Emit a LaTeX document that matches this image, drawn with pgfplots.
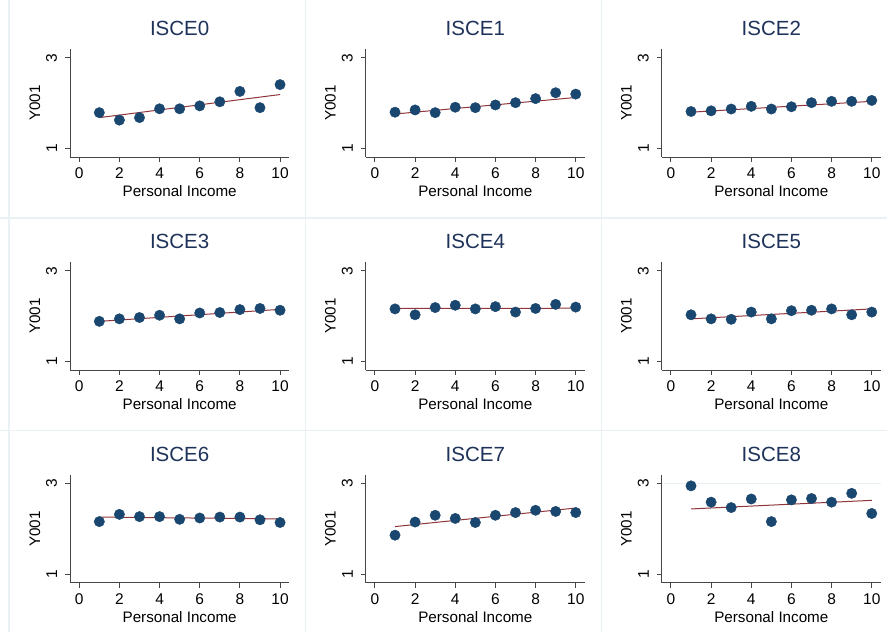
\documentclass[border=0pt]{standalone}
\usepackage{pgfplots}
\pgfplotsset{compat=1.18}
\usepackage{fontspec}
\setmainfont{Liberation Sans}
\definecolor{stnavy}{RGB}{26,71,111}
\definecolor{stmaroon}{RGB}{144,53,59}
\definecolor{sttitle}{RGB}{30,50,90}
\definecolor{stsep}{RGB}{234,241,244}
\definecolor{staxis}{RGB}{70,70,70}
\pgfplotsset{panel/.style={
  scale only axis, width=219.3pt, height=107.7pt, anchor=south west,
  xmin=-0.46, xmax=10.46, ymin=0.81, ymax=3.19,
  axis lines=left, axis line style={-, draw=staxis, line width=0.9pt},
  xtick={0,2,4,6,8,10}, ytick={1,3},
  tick align=outside, tick style={draw=staxis, line width=0.9pt}, major tick length=5pt,
  tick label style={font=\fontsize{15.5}{16}\selectfont},
  /pgf/number format/assume math mode=true,
  xticklabel style={anchor=north, inner sep=0pt},
  yticklabel style={rotate=90, anchor=south, inner sep=0pt},
  xticklabel shift=5.7pt, yticklabel shift=7.7pt,
  title style={at={(axis description cs:0.5,1.0706)}, anchor=base, font=\fontsize{20.5}{21}\selectfont, text=sttitle},
  xlabel={Personal Income}, ylabel={Y001},
  xlabel style={at={(axis description cs:0.5,-0.3686)}, anchor=base, font=\fontsize{15.2}{16}\selectfont},
  ylabel style={at={(axis description cs:-0.1368,0.5)}, rotate=0, anchor=base, font=\fontsize{15.2}{16}\selectfont},
  clip=false,
},
dots/.style={only marks, mark=*, mark size=5.2pt, mark options={fill=stnavy, draw=stnavy}},
fit/.style={no marks, draw=stmaroon, line width=1pt}}
\begin{document}
\begin{tikzpicture}
\useasboundingbox (0,0) rectangle (887pt,632pt);
\fill[white] (0,0) rectangle (887pt,632pt);
\draw[stsep, line width=1.5pt] (9pt,0) -- (9pt,632pt);
\draw[stsep, line width=1.5pt] (305.5pt,0) -- (305.5pt,632pt);
\draw[stsep, line width=1.5pt] (601.5pt,0) -- (601.5pt,632pt);
\draw[stsep, line width=1.5pt] (0,414pt) -- (887pt,414pt);
\draw[stsep, line width=1.5pt] (0,201.5pt) -- (887pt,201.5pt);

% Row 1
\begin{axis}[panel, at={(70pt,475pt)}, title={ISCE0}]
\addplot[dots] coordinates {(1,1.79)(2,1.625)(3,1.68)(4,1.875)(5,1.875)(6,1.94)(7,2.03)(8,2.26)(9,1.90)(10,2.41)};
\addplot[fit] coordinates {(1,1.68)(10,2.19)};
\end{axis}
\begin{axis}[panel, at={(365.7pt,475pt)}, title={ISCE1}]
\addplot[dots] coordinates {(1,1.80)(2,1.85)(3,1.79)(4,1.91)(5,1.90)(6,1.96)(7,2.01)(8,2.10)(9,2.23)(10,2.20)};
\addplot[fit] coordinates {(1,1.76)(10,2.125)};
\end{axis}
\begin{axis}[panel, at={(661.7pt,475pt)}, title={ISCE2}]
\addplot[dots] coordinates {(1,1.815)(2,1.83)(3,1.87)(4,1.93)(5,1.87)(6,1.92)(7,2.01)(8,2.04)(9,2.04)(10,2.06)};
\addplot[fit] coordinates {(1,1.80)(10,2.04)};
\end{axis}

% Row 2
\begin{axis}[panel, at={(70pt,262pt)}, title={ISCE3}]
\addplot[dots] coordinates {(1,1.885)(2,1.94)(3,1.97)(4,2.02)(5,1.94)(6,2.07)(7,2.08)(8,2.145)(9,2.17)(10,2.13)};
\addplot[fit] coordinates {(1,1.885)(10,2.15)};
\end{axis}
\begin{axis}[panel, at={(365.7pt,262pt)}, title={ISCE4}]
\addplot[dots] coordinates {(1,2.16)(2,2.03)(3,2.19)(4,2.24)(5,2.16)(6,2.21)(7,2.09)(8,2.17)(9,2.26)(10,2.20)};
\addplot[fit] coordinates {(1,2.17)(10,2.175)};
\end{axis}
\begin{axis}[panel, at={(661.7pt,262pt)}, title={ISCE5}]
\addplot[dots] coordinates {(1,2.03)(2,1.94)(3,1.93)(4,2.09)(5,1.94)(6,2.12)(7,2.13)(8,2.16)(9,2.03)(10,2.09)};
\addplot[fit] coordinates {(1,1.94)(10,2.16)};
\end{axis}

% Row 3
\begin{axis}[panel, at={(70pt,49.3pt)}, title={ISCE6}]
\addplot[dots] coordinates {(1,2.16)(2,2.32)(3,2.27)(4,2.27)(5,2.21)(6,2.24)(7,2.26)(8,2.26)(9,2.20)(10,2.14)};
\addplot[fit] coordinates {(1,2.26)(10,2.22)};
\end{axis}
\begin{axis}[panel, at={(365.7pt,49.3pt)}, title={ISCE7}]
\addplot[dots] coordinates {(1,1.86)(2,2.15)(3,2.30)(4,2.23)(5,2.14)(6,2.30)(7,2.36)(8,2.41)(9,2.385)(10,2.36)};
\addplot[fit] coordinates {(1,2.05)(10,2.46)};
\end{axis}
\begin{axis}[panel, at={(661.7pt,49.3pt)}, title={ISCE8}, ytick={3}, extra y ticks={1}, ymajorgrids, extra y tick style={grid=none}, grid style={stsep, line width=1pt}]
\addplot[dots] coordinates {(1,2.95)(2,2.59)(3,2.47)(4,2.66)(5,2.16)(6,2.64)(7,2.67)(8,2.59)(9,2.785)(10,2.34)};
\addplot[fit] coordinates {(1,2.44)(10,2.63)};
\end{axis}
\end{tikzpicture}
\end{document}
